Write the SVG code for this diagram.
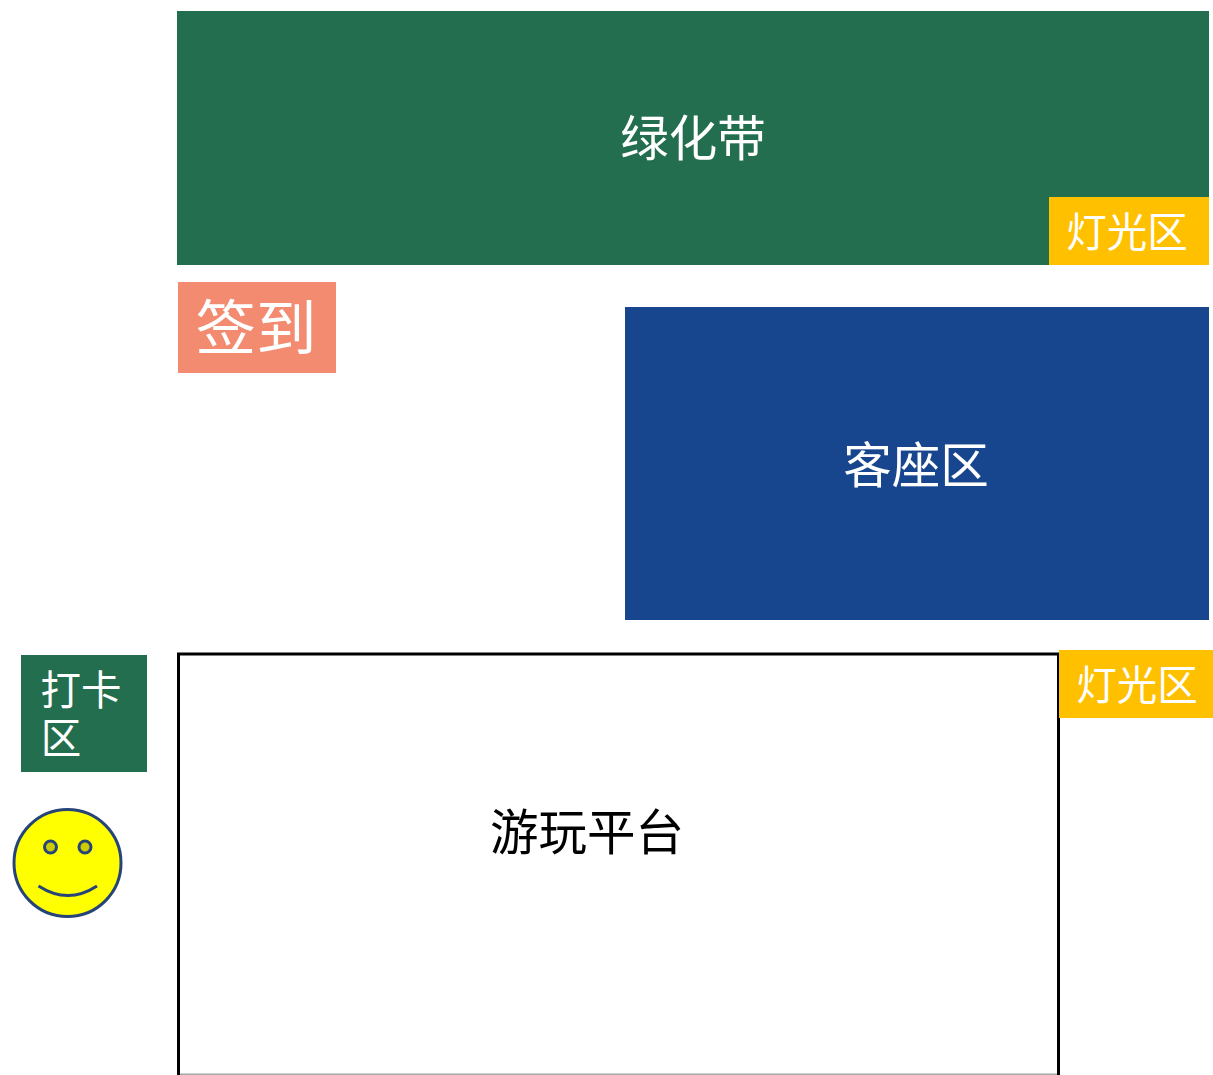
<svg xmlns="http://www.w3.org/2000/svg" width="1213" height="1075" viewBox="0 0 1213 1075">
<style>
text{font-family:"Microsoft YaHei","Noto Sans CJK SC",sans-serif;fill:#fff;text-anchor:middle}
.big{font-size:48.500px}
.lamp{font-size:40.500px}
.lampbox{fill:#ffc000}
</style>
<rect width="1213" height="1075" fill="#fff"/>
<g id="greenbelt"><rect x="177" y="11" width="1032" height="254" fill="#236e4f"/><text class="big" x="693" y="156">绿化带</text></g>
<g id="light1"><rect class="lampbox" x="1049" y="197" width="160" height="68"/><text class="lamp" x="1127" y="247">灯光区</text></g>
<g id="signin"><rect x="178" y="282" width="158" height="91" fill="#f38b71"/><text x="256" y="350" font-size="60.500">签到</text></g>
<g id="seats"><rect x="625" y="307" width="584" height="313" fill="#17468e"/><text class="big" x="916" y="483">客座区</text></g>
<g id="platform"><rect x="178.500" y="654" width="880" height="440" fill="#fff" stroke="#000" stroke-width="3"/><path d="M180 1074.250H1057" stroke="#a6a6a6" stroke-width="1.500" fill="none"/><text class="big" x="587" y="850" style="fill:#000">游玩平台</text></g>
<g id="light2"><rect class="lampbox" x="1059" y="650" width="154" height="68"/><text class="lamp" x="1137" y="700">灯光区</text></g>
<g id="checkin"><rect x="21" y="655" width="126" height="117" fill="#236e4f"/><text class="lamp"><tspan x="81" y="705">打卡</tspan><tspan x="61" y="753">区</tspan></text></g>
<g id="smiley" fill="#ffff00" stroke="#264478" stroke-width="3"><circle cx="67.500" cy="863" r="53.500"/><circle cx="50.500" cy="847" r="6" fill="#cccc00"/><circle cx="85" cy="847" r="6" fill="#cccc00"/><path d="M38.500 886Q68 905 97 886" fill="none"/></g>
<g id="connectors"/>
</svg>
